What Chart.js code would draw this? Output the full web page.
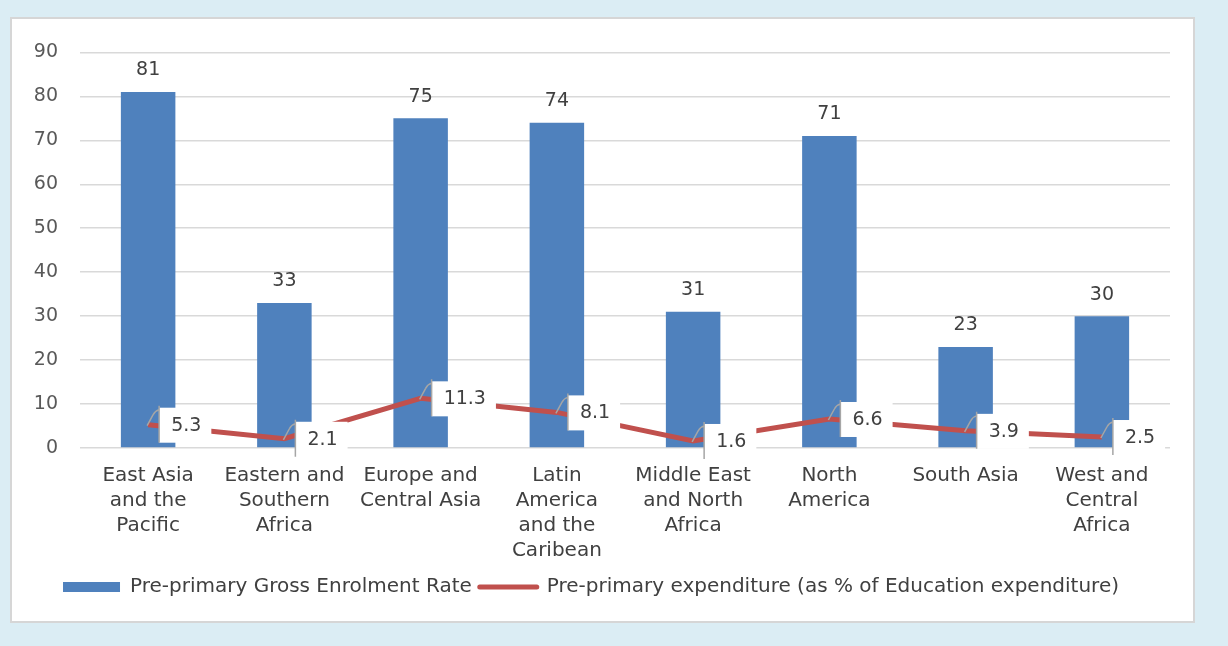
<!DOCTYPE html>
<html>
<head>
<meta charset="utf-8">
<title>Pre-primary enrolment and expenditure by region</title>
<script src="https://cdn.jsdelivr.net/npm/chart.js@4.4.0/dist/chart.umd.min.js"></script>
<style>
    html, body { margin: 0; padding: 0; background: #dbedf4; }
    #panel {
        position: absolute; left: 10px; top: 17px;
        width: 1185px; height: 606px;
        background: #fff; border: 2px solid #d6d6d6; box-sizing: border-box;
    }
    #wrap { position: absolute; left: 0; top: 0; width: 1181px; height: 602px; }
</style>
</head>
<body>
<div id="panel"><div id="wrap"><canvas id="grafico"></canvas></div></div>
<script>
const regioes = [
    ['East Asia', 'and the', 'Pacific'],
    ['Eastern and', 'Southern', 'Africa'],
    ['Europe and', 'Central Asia'],
    ['Latin', 'America', 'and the', 'Caribean'],
    ['Middle East', 'and North', 'Africa'],
    ['North', 'America'],
    ['South Asia'],
    ['West and', 'Central', 'Africa']
];
const taxaMatricula = [81, 33, 75, 74, 31, 71, 23, 30];
const gastoPrePrimario = [5.3, 2.1, 11.3, 8.1, 1.6, 6.6, 3.9, 2.5];
const ticksY = [0, 10, 20, 30, 40, 50, 60, 70, 80, 90];

const AZUL = '#4f81bd';
const VERMELHO = '#c0504d';
const FONTE = '"DejaVu Sans", sans-serif';
const TAM = 19;
const TAM_TEXTO = 20;

// value labels: plain text over the bars, boxed callouts for the line
const rotulos = {
    id: 'rotulos',
    afterDatasetsDraw(chart) {
        const ctx = chart.ctx;
        ctx.save();
        ctx.font = TAM + 'px ' + FONTE;
        ctx.fillStyle = '#404040';

        const barras = chart.getDatasetMeta(0);
        ctx.textAlign = 'center';
        ctx.textBaseline = 'bottom';
        barras.data.forEach(function (el, i) {
            ctx.fillText(String(taxaMatricula[i]), el.x, el.y - 12);
        });

        const linha = chart.getDatasetMeta(1);
        ctx.textAlign = 'left';
        ctx.textBaseline = 'middle';
        linha.data.forEach(function (el, i) {
            const txt = String(gastoPrePrimario[i]);
            const w = ctx.measureText(txt).width;
            const vx = el.x + 11;
            ctx.fillStyle = '#ffffff';
            ctx.fillRect(vx, el.y - 17, w + 22, 35);

            ctx.strokeStyle = '#a6a6a6';
            ctx.lineWidth = 1.5;
            ctx.beginPath();
            ctx.moveTo(vx, el.y - 19);
            ctx.lineTo(vx, el.y + 18);
            ctx.moveTo(el.x - 1, el.y + 1);
            ctx.lineTo(el.x + 5, el.y - 10);
            ctx.quadraticCurveTo(el.x + 7, el.y - 14, vx, el.y - 15);
            ctx.stroke();

            ctx.fillStyle = '#404040';
            ctx.fillText(txt, vx + 12, el.y + 1);
        });
        ctx.restore();
    }
};

const ctx = document.getElementById('grafico');

new Chart(ctx, {
    data: {
        labels: regioes,
        datasets: [
            {
                type: 'bar',
                label: 'Pre-primary Gross Enrolment Rate',
                data: taxaMatricula,
                backgroundColor: AZUL,
                barPercentage: 0.4,
                categoryPercentage: 1,
                order: 1
            },
            {
                type: 'line',
                label: 'Pre-primary expenditure (as % of Education expenditure)',
                data: gastoPrePrimario,
                borderColor: VERMELHO,
                backgroundColor: VERMELHO,
                borderWidth: 5,
                pointRadius: 0,
                tension: 0,
                order: 0
            }
        ]
    },
    options: {
        responsive: true,
        maintainAspectRatio: false,
        animation: false,
        layout: { padding: { top: 30, right: 23, left: 0, bottom: 14 } },
        plugins: {
            tooltip: { enabled: false },
            legend: {
                position: 'bottom',
                labels: {
                    color: '#404040',
                    font: { family: FONTE, size: TAM_TEXTO },
                    usePointStyle: true,
                    pointStyleWidth: 57,
                    boxHeight: 10,
                    padding: 8,
                    sort: function (a, b) { return a.datasetIndex - b.datasetIndex; },
                    generateLabels: function (chart) {
                        const itens = Chart.defaults.plugins.legend.labels.generateLabels(chart);
                        itens.forEach(function (it) {
                            if (it.datasetIndex === 0) {
                                it.pointStyle = 'rect';
                                it.fillStyle = AZUL;
                                it.lineWidth = 0;
                            } else {
                                it.pointStyle = 'line';
                                it.strokeStyle = VERMELHO;
                                it.lineWidth = 5;
                                it.lineCap = 'round';
                            }
                        });
                        return itens;
                    }
                }
            }
        },
        scales: {
            y: {
                min: 0,
                max: 90,
                afterFit: function (scale) { scale.width = 68; },
                afterBuildTicks: function (scale) {
                    scale.ticks = ticksY.map(function (v) { return { value: v }; });
                },
                border: { display: false },
                grid: { color: '#d9d9d9', lineWidth: 1.5, drawTicks: false },
                ticks: {
                    color: '#595959',
                    padding: 22,
                    font: { family: FONTE, size: TAM }
                }
            },
            x: {
                afterFit: function (scale) { scale.height = 121; },
                border: { display: false },
                grid: { display: false, drawTicks: false },
                ticks: {
                    color: '#404040',
                    padding: 15,
                    maxRotation: 0,
                    autoSkip: false,
                    font: { family: FONTE, size: TAM_TEXTO, lineHeight: 1.25 }
                }
            }
        }
    },
    plugins: [rotulos]
});
</script>
</body>
</html>
